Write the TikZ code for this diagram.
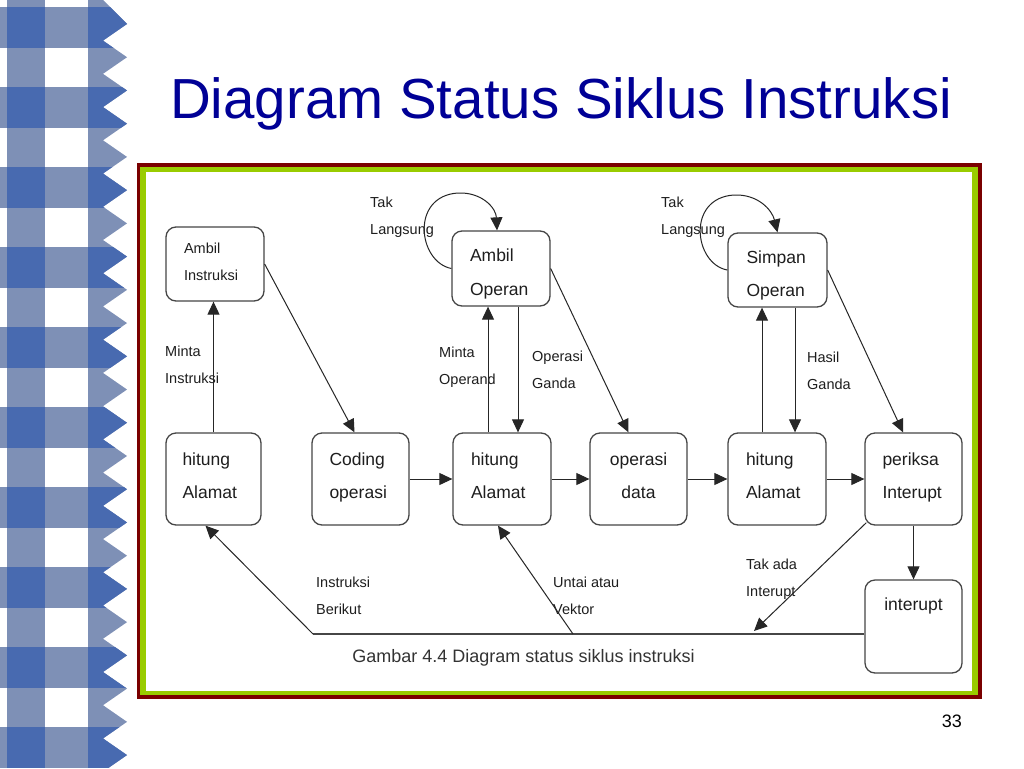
\documentclass[tikz,border=0pt]{standalone}
\usepackage{fontspec}
\setmainfont{Liberation Sans}
\usetikzlibrary{arrows.meta}
\definecolor{judul}{RGB}{0,0,150}
\definecolor{birutua}{RGB}{72,106,176}
\definecolor{birumuda}{RGB}{126,144,182}
\definecolor{merah}{RGB}{122,0,0}
\definecolor{hijau}{RGB}{153,204,0}
\definecolor{garis}{RGB}{70,70,70}
\definecolor{tinta}{RGB}{30,30,30}
\newcommand{\hurufkotak}{\fontsize{17.5}{33.3}\selectfont}
\newcommand{\hurufket}{\fontsize{14.5}{27}\selectfont}

\begin{document}
\begin{tikzpicture}[x=1pt,y=-1pt,
    kotak/.style={draw=garis,line width=1.3pt,rounded corners=10pt,minimum width=97pt,minimum height=92pt,
        text width=62pt,align=left,inner sep=0pt,text=tinta,font=\hurufkotak,text height=0pt,text depth=28pt},
    ket/.style={anchor=west,align=left,inner sep=0pt,text=tinta,font=\hurufket},
    panah/.style={-{Triangle[length=13pt,width=12pt]},line width=1pt,black!85}]
	% Define the page
	\useasboundingbox (0,0) rectangle (1024,768);
	\fill[white] (0,0) rectangle (1024,768);
	% Create strip
	\begin{scope}
		\clip (0,0) -- (103,0) \foreach \k in {0,...,22}{ -- (127,{24+33.23*\k}) -- (103,{40.6+33.23*\k})} -- (103,768) -- (0,768) -- cycle;
		\fill[birumuda] (7,0) rectangle (45,768);
		\fill[birumuda] (88,0) rectangle (130,768);
		\foreach \k in {0,...,9}{
			\fill[birumuda] (0,{7+80*\k}) rectangle (7,{48+80*\k});
			\fill[birumuda] (45,{7+80*\k}) rectangle (88,{48+80*\k});
			\fill[birutua] (7,{7+80*\k}) rectangle (45,{48+80*\k});
			\fill[birutua] (88,{7+80*\k}) rectangle (130,{48+80*\k});}
	\end{scope}
	% Title and frame
	\node[anchor=base west,inner sep=0pt,text=judul,font=\fontsize{56.5}{60}\selectfont] (judul) at (170,118) {Diagram Status Siklus Instruksi};
	\fill[merah] (137,163) rectangle (982,699);
	\fill[hijau] (140,167) rectangle (978,695);
	\fill[white] (146,172) rectangle (972,691);
	\node[anchor=base east,inner sep=0pt,font=\fontsize{18}{20}\selectfont] (hal) at (962,727) {33};
	% States
	\node[kotak,minimum width=98pt,minimum height=74pt,font=\fontsize{14.5}{26.7}\selectfont,text depth=21.4pt] (ambilI) at (215,264) {Ambil\\Instruksi};
	\node[kotak,minimum width=98pt,minimum height=75pt,text depth=13.6pt] (ambilO) at (501,268.5) {Ambil\\Operan};
	\node[kotak,minimum width=99pt,minimum height=74pt,text depth=13.4pt] (simpan) at (777.5,270) {Simpan\\Operan};
	\node[kotak,minimum width=95pt] (hit1) at (213.5,479) {hitung\\Alamat};
	\node[kotak] (coding) at (360.5,479) {Coding\\operasi};
	\node[kotak,minimum width=98pt] (hit2) at (502,479) {hitung\\Alamat};
	\node[kotak,align=center] (opdata) at (638.5,479) {operasi\\data};
	\node[kotak,minimum width=98pt] (hit3) at (777,479) {hitung\\Alamat};
	\node[kotak] (periksa) at (913.5,479) {periksa\\Interupt};
	\node[kotak,align=center,minimum height=93pt,text depth=33pt] (interupt) at (913.5,626.5) {interupt};
	% Labels
	\node[ket] (tak1) at (370,217) {Tak\\Langsung};
	\node[ket] (tak2) at (661,217) {Tak\\Langsung};
	\node[ket] (minta1) at (165,364.5) {Minta\\Instruksi};
	\node[ket] (minta2) at (439,367.5) {Minta\\Operand};
	\node[ket] (opganda) at (532,369.5) {Operasi\\Ganda};
	\node[ket] (hasil) at (807,370.5) {Hasil\\Ganda};
	\node[ket] (berikut) at (316,596) {Instruksi\\Berikut};
	\node[ket] (untai) at (553,596) {Untai atau\\Vektor};
	\node[ket] (takada) at (746,579) {Tak ada\\Interupt};
	\node[inner sep=0pt,text=black!80,font=\fontsize{18}{20}\selectfont] (gambar) at (523.5,658) {Gambar 4.4 Diagram status siklus instruksi};
	% Transitions
	\draw[panah] (hit1.north) -- (hit1.north |- ambilI.south);
	\draw[panah] (ambilI.east) -- ([xshift=-6pt]coding.north);
	\draw[panah] (coding.east) -- (hit2.west);
	\draw[panah] ([xshift=-14pt]hit2.north) -- ([xshift=-13pt]ambilO.south);
	\draw[panah] ([xshift=17pt]ambilO.south) -- ([xshift=16pt]hit2.north);
	\draw[panah] (ambilO.east) -- ([xshift=-10pt]opdata.north);
	\draw[panah] (hit2.east) -- (opdata.west);
	\draw[panah] (opdata.east) -- (hit3.west);
	\draw[panah] ([xshift=-15pt]hit3.north) -- ([xshift=-15.5pt]simpan.south);
	\draw[panah] ([xshift=17.5pt]simpan.south) -- ([xshift=18pt]hit3.north);
	\draw[panah] (simpan.east) -- ([xshift=-10.5pt]periksa.north);
	\draw[panah] (hit3.east) -- (periksa.west);
	\draw[panah] (periksa.south) -- (interupt.north);
	% Self loops
	\draw[panah] (ambilO.west) .. controls (418,262) and (410,196) .. (458,193) .. controls (482,192) and (496,208) .. ([xshift=-4pt]ambilO.north);
	\draw[panah] (simpan.west) .. controls (694,264) and (686,198) .. (734,195) .. controls (758,194) and (772,210) .. (simpan.north);
	% Return paths
	\coordinate (kiri) at (313,634);
	\coordinate (kaki) at (573,634);
	\coordinate (tiba) at (754,631);
	\draw[line width=1.3pt,garis] (interupt.west |- kiri) -- (kiri);
	\draw[panah] (kiri) -- ([xshift=-8pt]hit1.south);
	\draw[panah] (kaki) -- ([xshift=-4pt]hit2.south);
	\draw[panah] ([xshift=2pt,yshift=3pt]periksa.south west) -- (tiba);
\end{tikzpicture}
\end{document}
